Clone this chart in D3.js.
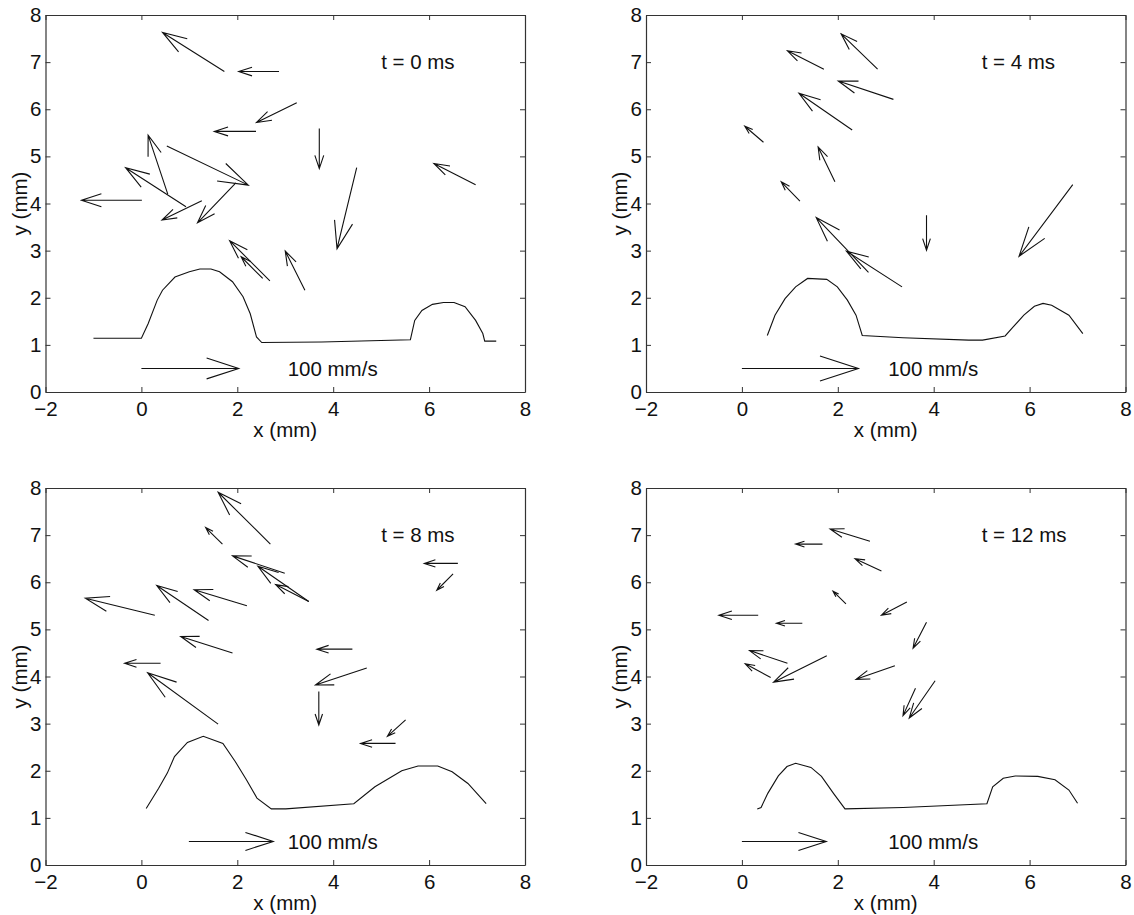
<!DOCTYPE html>
<html>
<head>
<meta charset="utf-8">
<script src="https://cdn.jsdelivr.net/npm/d3@7"></script>
<style>
  body { margin: 0; background: #fff; }
  text { font-family: "Liberation Sans", Arial, Helvetica, sans-serif; fill: #111; }
</style>
</head>
<body>
<svg id="fig" width="1134" height="915"></svg>
<script>
// Velocity vectors per frame: [x, y, u, v], all in mm (arrow length scaled per frame)
const arrowsT0 = [
  [1.73, 6.80, -1.29, 0.83], [2.87, 6.80, -0.84, 0.00], [3.24, 6.14, -0.84, -0.42],
  [2.39, 5.53, -0.87, 0.00], [3.71, 5.59, 0.00, -0.85], [0.53, 5.22, 1.70, -0.83],
  [0.55, 4.20, -0.41, 1.25], [0.93, 3.93, -1.26, 0.83], [0.01, 4.07, -1.26, 0.00],
  [1.26, 4.06, -0.83, -0.41], [1.97, 4.44, -0.80, -0.85], [4.49, 4.76, -0.41, -1.72],
  [6.97, 4.40, -0.87, 0.45], [2.68, 2.36, -0.84, 0.85], [2.53, 2.41, -0.45, 0.46],
  [3.41, 2.16, -0.41, 0.83]
];
const arrowsT4 = [
  [2.83, 6.85, -0.76, 0.75], [1.71, 6.85, -0.76, 0.39], [3.16, 6.21, -1.15, 0.39],
  [2.30, 5.56, -1.11, 0.78], [0.45, 5.30, -0.39, 0.34], [1.94, 4.46, -0.35, 0.74],
  [1.21, 4.05, -0.39, 0.41], [2.64, 2.54, -1.09, 1.16], [3.34, 2.23, -1.16, 0.76],
  [3.85, 3.75, 0.00, -0.74], [6.90, 4.40, -1.12, -1.52]
];
const arrowsT8 = [
  [2.69, 6.81, -1.09, 1.10], [1.69, 6.81, -0.35, 0.35], [2.99, 6.19, -1.09, 0.37],
  [3.49, 5.59, -1.06, 0.75], [3.49, 5.59, -0.69, 0.36], [2.20, 5.50, -1.10, 0.34],
  [1.40, 5.19, -1.08, 0.74], [0.28, 5.30, -1.45, 0.36], [1.90, 4.50, -1.08, 0.35],
  [0.40, 4.28, -0.75, 0.00], [1.60, 2.99, -1.47, 1.09], [4.40, 4.58, -0.74, 0.00],
  [4.70, 4.18, -1.07, -0.36], [3.70, 3.68, 0.00, -0.71], [5.30, 2.58, -0.73, 0.00],
  [5.51, 3.08, -0.38, -0.35], [6.60, 6.40, -0.70, 0.00], [6.50, 6.18, -0.34, -0.35]
];
const arrowsT12 = [
  [2.67, 6.87, -0.83, 0.26], [1.68, 6.81, -0.56, 0.00], [2.91, 6.24, -0.55, 0.26],
  [2.17, 5.54, -0.27, 0.27], [3.44, 5.58, -0.53, -0.28], [0.34, 5.30, -0.82, 0.00],
  [1.26, 5.13, -0.54, 0.00], [3.85, 5.15, -0.28, -0.55], [0.95, 4.28, -0.79, 0.27],
  [0.60, 3.98, -0.53, 0.29], [1.77, 4.44, -1.11, -0.56], [3.19, 4.23, -0.81, -0.29],
  [3.62, 3.75, -0.26, -0.58], [4.03, 3.91, -0.54, -0.79]
];

// Wall profile per frame: [x, y] in mm
const surfaceT0 = [
  [-1.0, 1.14], [0.0, 1.14], [0.14, 1.45], [0.33, 1.95], [0.44, 2.16], [0.70, 2.44],
  [1.0, 2.55], [1.22, 2.61], [1.45, 2.61], [1.63, 2.55], [1.90, 2.34], [2.12, 2.02],
  [2.27, 1.66], [2.40, 1.17], [2.51, 1.05], [3.76, 1.06], [5.61, 1.11], [5.70, 1.52],
  [5.85, 1.73], [6.07, 1.86], [6.30, 1.90], [6.52, 1.90], [6.75, 1.81], [6.97, 1.52],
  [7.12, 1.24], [7.16, 1.08], [7.40, 1.08]
];
const surfaceT4 = [
  [0.53, 1.20], [0.69, 1.63], [0.90, 1.98], [1.12, 2.23], [1.37, 2.41], [1.77, 2.39],
  [1.99, 2.23], [2.20, 1.95], [2.38, 1.63], [2.51, 1.20], [3.36, 1.15], [4.73, 1.10],
  [5.02, 1.10], [5.49, 1.19], [5.63, 1.35], [5.88, 1.63], [6.10, 1.82], [6.28, 1.88],
  [6.46, 1.84], [6.82, 1.63], [7.11, 1.24]
];
const surfaceT8 = [
  [0.10, 1.20], [0.36, 1.63], [0.54, 1.95], [0.69, 2.30], [0.96, 2.60], [1.29, 2.73],
  [1.70, 2.58], [1.96, 2.19], [2.19, 1.81], [2.41, 1.42], [2.71, 1.19], [3.01, 1.19],
  [4.43, 1.30], [4.87, 1.66], [5.43, 2.00], [5.77, 2.10], [6.18, 2.10], [6.48, 1.98],
  [6.81, 1.73], [7.19, 1.30]
];
const surfaceT12 = [
  [0.32, 1.19], [0.40, 1.22], [0.54, 1.52], [0.76, 1.89], [0.94, 2.09], [1.12, 2.16],
  [1.44, 2.07], [1.66, 1.88], [1.91, 1.52], [2.15, 1.19], [3.36, 1.22], [5.11, 1.30],
  [5.23, 1.66], [5.45, 1.84], [5.70, 1.89], [6.17, 1.88], [6.53, 1.81], [6.82, 1.59],
  [7.00, 1.31]
];

// Scale arrow (100 mm/s): [x start, y, length] in mm
const refArrows = [[0.0, 0.5, 2.03], [0.0, 0.5, 2.43], [0.99, 0.5, 1.76], [0.0, 0.5, 1.76]];
const timeLabels = ["t = 0 ms", "t = 4 ms", "t = 8 ms", "t = 12 ms"];
const refLabel = "100 mm/s";
const xTicks = [-2, 0, 2, 4, 6, 8];
const yTicks = [0, 1, 2, 3, 4, 5, 6, 7, 8];
const xLabel = "x (mm)";
const yLabel = "y (mm)";

const frames = [
  { arrows: arrowsT0, surface: surfaceT0 },
  { arrows: arrowsT4, surface: surfaceT4 },
  { arrows: arrowsT8, surface: surfaceT8 },
  { arrows: arrowsT12, surface: surfaceT12 }
];

const svg = d3.select("#fig");
svg.append("rect").attr("width", 1134).attr("height", 915).attr("fill", "#fff");

const W = 479.5, H = 377;
const origins = [[45.5, 15], [646, 15], [45.5, 488], [646, 488]];
const FS = 20.5;
const ink = "#111";

// quiver-style arrow: shaft plus two barbs (alpha = beta = 0.33)
function quiverPath(x, y, d) {
  const [x0, y0, u, v] = d;
  const a = 0.33, b = 0.33;
  const tx = x0 + u, ty = y0 + v;
  const h1 = [tx - a * (u + b * v), ty - a * (v - b * u)];
  const h2 = [tx - a * (u - b * v), ty - a * (v + b * u)];
  return `M${x(x0)},${y(y0)}L${x(tx)},${y(ty)}` +
         `M${x(h1[0])},${y(h1[1])}L${x(tx)},${y(ty)}L${x(h2[0])},${y(h2[1])}`;
}

frames.forEach((f, i) => {
  const [ox, oy] = origins[i];
  const g = svg.append("g").attr("transform", `translate(${ox},${oy})`);
  const x = d3.scaleLinear().domain([-2, 8]).range([0, W]);
  const y = d3.scaleLinear().domain([0, 8]).range([H, 0]);

  // axes with inward ticks on all four sides
  g.append("g").attr("transform", `translate(0,${H})`)
    .call(d3.axisBottom(x).tickValues(xTicks).tickSizeInner(-5).tickSizeOuter(0).tickPadding(9));
  g.append("g")
    .call(d3.axisLeft(y).tickValues(yTicks).tickSizeInner(-5).tickSizeOuter(0).tickPadding(4));
  g.append("g").call(d3.axisTop(x).tickValues(xTicks).tickSizeInner(-5).tickSizeOuter(0).tickFormat(""));
  g.append("g").attr("transform", `translate(${W},0)`)
    .call(d3.axisRight(y).tickValues(yTicks).tickSizeInner(-5).tickSizeOuter(0).tickFormat(""));
  g.selectAll(".domain").attr("stroke", "#333").attr("stroke-width", 1.2);
  g.selectAll(".tick line").attr("stroke", "#333");
  g.selectAll(".tick text").attr("font-size", FS).attr("fill", ink)
    .attr("font-family", '"Liberation Sans", Arial, sans-serif');

  // axis titles
  g.append("text").attr("x", x(3)).attr("y", H + 45).attr("text-anchor", "middle")
    .attr("font-size", FS).text(xLabel);
  g.append("text").attr("transform", `translate(-19,${y(4)}) rotate(-90)`)
    .attr("text-anchor", "middle").attr("font-size", FS).text(yLabel);

  // wall profile
  g.append("path").datum(f.surface)
    .attr("d", d3.line().x(d => x(d[0])).y(d => y(d[1])))
    .attr("fill", "none").attr("stroke", ink).attr("stroke-width", 1.1);

  // velocity vectors
  g.selectAll("path.vec").data(f.arrows).join("path").attr("class", "vec")
    .attr("d", d => quiverPath(x, y, d))
    .attr("fill", "none").attr("stroke", ink).attr("stroke-width", 1.1);

  // scale arrow and labels
  const r = refArrows[i];
  g.append("path").attr("d", quiverPath(x, y, [r[0], r[1], r[2], 0]))
    .attr("fill", "none").attr("stroke", ink).attr("stroke-width", 1.1);
  g.append("text").attr("x", x(3.05)).attr("y", y(0.5)).attr("dy", "0.35em")
    .attr("font-size", FS).text(refLabel);
  g.append("text").attr("x", x(5.0)).attr("y", y(7.0)).attr("dy", "0.35em")
    .attr("font-size", FS).text(timeLabels[i]);
});
</script>
</body>
</html>
